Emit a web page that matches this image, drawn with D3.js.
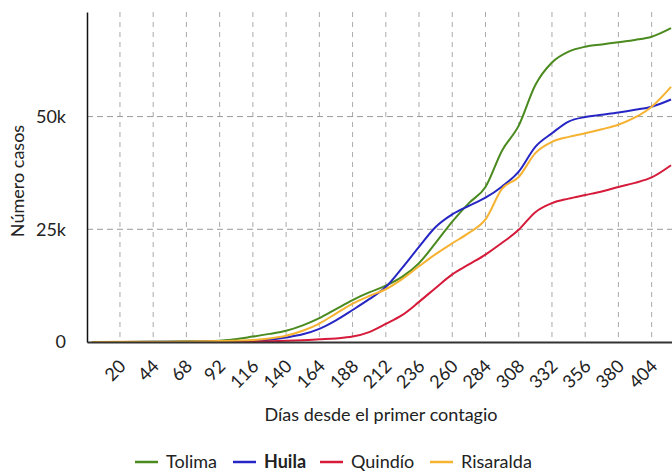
<!DOCTYPE html>
<html>
<head>
<meta charset="utf-8">
<script src="https://cdn.jsdelivr.net/npm/d3@7"></script>
<style>
  body { margin: 0; background: #fff; }
  text { font-family: Lato, "DejaVu Sans", sans-serif; fill: #222; }
</style>
</head>
<body>
<div id="chart"></div>
<script>
// days since first case
var days = [0, 20, 44, 68, 92, 116, 128, 140, 152, 164, 176, 188, 200, 212, 224, 236, 248, 260, 272, 284, 296, 308, 320, 332, 344, 356, 368, 380, 392, 404, 418];

var tolima    = [0, 20, 60, 150, 300, 1200, 1800, 2500, 3700, 5300, 7300, 9300, 11000, 12500, 14500, 17500, 22000, 26700, 30800, 34400, 42500, 48000, 57000, 62000, 64400, 65500, 66000, 66500, 67000, 67700, 69600];
var huila     = [0, 10, 30, 60, 100, 250, 500, 1000, 1700, 2900, 4800, 7100, 9500, 12200, 16500, 21100, 25500, 28300, 30200, 32000, 34500, 37800, 43300, 46300, 48900, 49900, 50400, 50900, 51500, 52200, 53800];
var quindio   = [0, 0, 10, 20, 50, 100, 150, 250, 400, 600, 800, 1200, 2200, 4000, 6000, 8900, 12000, 15000, 17200, 19400, 22000, 24900, 28800, 30800, 31800, 32600, 33400, 34400, 35300, 36500, 39200];
var risaralda = [0, 30, 60, 100, 200, 450, 800, 1400, 2500, 4100, 6300, 8500, 10200, 11700, 14000, 16800, 19500, 21900, 24200, 27200, 34000, 36600, 41900, 44400, 45500, 46300, 47200, 48200, 49800, 52200, 56600];

var seriesNames = ["Tolima", "Huila", "Quindío", "Risaralda"];
var seriesColors = ["#4a8a1e", "#2626c4", "#d61a3a", "#f6b231"];
var seriesValues = [tolima, huila, quindio, risaralda];

var xTicks = [20, 44, 68, 92, 116, 140, 164, 188, 212, 236, 260, 284, 308, 332, 356, 380, 404];
var yTicks = [0, 25000, 50000];

var svgWidth = 672;
var svgHeight = 471;

var margin = { top: 12, right: 0, bottom: 129, left: 87 };
var width = svgWidth - margin.left - margin.right;
var height = svgHeight - margin.top - margin.bottom;

var svg = d3.select("#chart")
    .append("svg")
    .attr("width", svgWidth)
    .attr("height", svgHeight);

var g = svg.append("g")
    .attr("transform", `translate(${margin.left}, ${margin.top})`);

var x = d3.scaleLinear().domain([-3.8, 418.7]).range([0, width]);
var y = d3.scaleLinear().domain([0, 73200]).range([height, 0]);

// grid
g.append("g")
    .selectAll("line")
    .data(xTicks)
    .enter()
    .append("line")
    .attr("x1", d => x(d)).attr("x2", d => x(d))
    .attr("y1", 0).attr("y2", height)
    .attr("stroke", "#aaa")
    .attr("stroke-width", 1)
    .attr("stroke-dasharray", "5,5");

g.append("g")
    .selectAll("line")
    .data(yTicks.filter(d => d > 0))
    .enter()
    .append("line")
    .attr("x1", 0).attr("x2", width)
    .attr("y1", d => y(d)).attr("y2", d => y(d))
    .attr("stroke", "#999")
    .attr("stroke-width", 1)
    .attr("stroke-dasharray", "6,4");

// lines
var line = d3.line()
    .x((d, i) => x(days[i]))
    .y(d => y(d))
    .curve(d3.curveMonotoneX);

seriesValues.forEach(function (vals, i) {
    g.append("path")
        .datum(vals)
        .attr("d", line)
        .attr("fill", "none")
        .attr("stroke", seriesColors[i])
        .attr("stroke-width", 2);
});

// axes
var xAxisG = g.append("g")
    .attr("transform", `translate(0, ${height})`)
    .call(d3.axisBottom(x).tickValues(xTicks).tickSize(0).tickPadding(0));
xAxisG.select(".domain").attr("stroke", "#333").attr("stroke-width", 2);
xAxisG.selectAll("text")
    .attr("font-size", "18px")
    .style("text-anchor", "end")
    .attr("dy", "0.35em")
    .attr("transform", "translate(2, 21) rotate(-45)");

var yAxisG = g.append("g")
    .call(d3.axisLeft(y).tickValues(yTicks).tickSize(0).tickPadding(21)
        .tickFormat(d => d === 0 ? "0" : (d / 1000) + "k"));
yAxisG.select(".domain").attr("stroke", "#111").attr("stroke-width", 1.5);
yAxisG.selectAll("text").attr("font-size", "18px");

// axis titles
svg.append("text")
    .attr("x", 381)
    .attr("y", 421)
    .attr("text-anchor", "middle")
    .attr("font-size", "18px")
    .text("Días desde el primer contagio");

svg.append("text")
    .attr("transform", "translate(24, 181) rotate(-90)")
    .attr("text-anchor", "middle")
    .attr("font-size", "18px")
    .text("Número casos");

// legend
var legendX = [135, 233, 320, 430];
var legend = svg.append("g");
seriesNames.forEach(function (name, i) {
    legend.append("line")
        .attr("x1", legendX[i]).attr("x2", legendX[i] + 23)
        .attr("y1", 462).attr("y2", 462)
        .attr("stroke", seriesColors[i])
        .attr("stroke-width", 2.5);
    legend.append("text")
        .attr("x", legendX[i] + 31)
        .attr("y", 462)
        .attr("dy", "0.35em")
        .attr("font-size", "18px")
        .attr("font-weight", name === "Huila" ? "bold" : "normal")
        .text(name);
});
</script>
</body>
</html>
